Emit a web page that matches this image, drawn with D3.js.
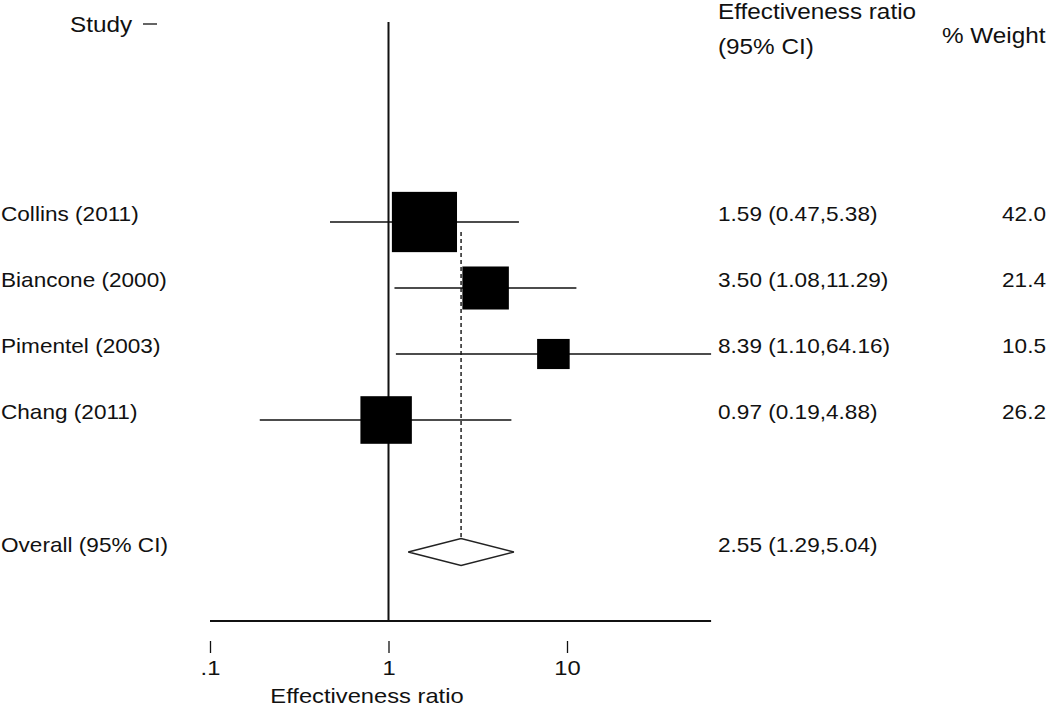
<!DOCTYPE html>
<html>
<head>
<meta charset="utf-8">
<script src="https://cdn.jsdelivr.net/npm/d3@7"></script>
<style>
  html, body { margin: 0; padding: 0; background: #fff; }
  svg { display: block; }
  text { font-family: "Liberation Sans", Arial, sans-serif; fill: #111; }
</style>
</head>
<body>
<svg id="chart" width="1050" height="709"></svg>
<script>
// ---- data ----
const studies  = ["Collins (2011)", "Biancone (2000)", "Pimentel (2003)", "Chang (2011)"];
const estimate = [1.59, 3.50, 8.39, 0.97];
const lower    = [0.47, 1.08, 1.10, 0.19];
const upper    = [5.38, 11.29, 64.16, 4.88];
const weights  = [42.0, 21.4, 10.5, 26.2];
const overallLabel = "Overall (95% CI)";
const overall  = [2.55, 1.29, 5.04]; // estimate, lower, upper
const tickValues = [0.1, 1, 10];
const tickLabels = [".1", "1", "10"];

// ---- layout ----
const svg = d3.select("#chart");
const SX = 1.13; // horizontal text stretch seen in reference
const x = d3.scaleLog().domain([0.1, 10]).range([210, 567]);
const y = d3.scaleLinear().domain([0, 5]).range([222, 552]);
const rowFont = 20, headFont = 21.5;
const axisY = 621;

function stretchedText(g, tx, ty, str, size, anchor) {
  return g.append("text")
    .attr("transform", `translate(${tx},${ty}) scale(${SX},1)`)
    .attr("font-size", size)
    .attr("text-anchor", anchor || "start")
    .text(str);
}

// headers
stretchedText(svg, 70, 32, "Study", headFont);
svg.append("line").attr("x1", 143).attr("x2", 157).attr("y1", 24).attr("y2", 24)
  .attr("stroke", "#111").attr("stroke-width", 1.3);
stretchedText(svg, 718, 19, "Effectiveness ratio", headFont);
stretchedText(svg, 718, 54, "(95% CI)", headFont);
stretchedText(svg, 942, 43, "% Weight", headFont);

// null line at 1
svg.append("line")
  .attr("x1", x(1)).attr("x2", x(1))
  .attr("y1", 22).attr("y2", axisY)
  .attr("stroke", "#111").attr("stroke-width", 2);

// overall dashed line
svg.append("line")
  .attr("x1", x(overall[0])).attr("x2", x(overall[0]))
  .attr("y1", y(0) + 10).attr("y2", y(5))
  .attr("stroke", "#111").attr("stroke-width", 1.4)
  .attr("stroke-dasharray", "4,3");

// studies
const rows = studies.map((s, i) => ({ s, est: estimate[i], lo: lower[i], hi: upper[i], w: weights[i], i }));
const g = svg.append("g");
rows.forEach(d => {
  const cy = y(d.i);
  g.append("line")
    .attr("x1", x(d.lo)).attr("x2", x(d.hi))
    .attr("y1", cy).attr("y2", cy)
    .attr("stroke", "#111").attr("stroke-width", 1.4);
  const h = 9.3 * Math.sqrt(d.w);
  const w = 10.05 * Math.sqrt(d.w);
  g.append("rect")
    .attr("x", x(d.est) - w / 2).attr("y", cy - h / 2)
    .attr("width", w).attr("height", h)
    .attr("fill", "#000");
  stretchedText(g, 1, cy - 1, d.s, rowFont);
  stretchedText(g, 718, cy - 1,
    `${d.est.toFixed(2)} (${d.lo.toFixed(2)},${d.hi.toFixed(2)})`, rowFont);
  stretchedText(g, 1046, cy - 1, d.w.toFixed(1), rowFont, "end");
});

// overall diamond
const oy = y(5);
const dh = 13.5;
svg.append("path")
  .attr("d", `M${x(overall[1])},${oy} L${x(overall[0])},${oy - dh} L${x(overall[2])},${oy} L${x(overall[0])},${oy + dh} Z`)
  .attr("fill", "#fff").attr("stroke", "#222").attr("stroke-width", 1.5);
stretchedText(svg, 1, oy, overallLabel, rowFont);
stretchedText(svg, 718, oy,
  `${overall[0].toFixed(2)} (${overall[1].toFixed(2)},${overall[2].toFixed(2)})`, rowFont);

// axis line
svg.append("line")
  .attr("x1", x(0.1)).attr("x2", x(d3.max(upper)))
  .attr("y1", axisY).attr("y2", axisY)
  .attr("stroke", "#111").attr("stroke-width", 2);

// ticks
const axis = d3.axisBottom(x)
  .tickValues(tickValues)
  .tickFormat((d, i) => tickLabels[i])
  .tickSize(12).tickPadding(7);
const ag = svg.append("g").attr("transform", `translate(0,641)`).call(axis);
ag.select(".domain").remove();
ag.selectAll(".tick line").attr("stroke", "#111").attr("stroke-width", 1.3);
ag.selectAll(".tick text")
  .attr("font-size", 21)
  .attr("font-family", "Liberation Sans, Arial, sans-serif")
  .attr("fill", "#111")
  .attr("transform", `scale(${SX},1)`);

// axis title
stretchedText(svg, 367, 703, "Effectiveness ratio", 21, "middle");
</script>
</body>
</html>
